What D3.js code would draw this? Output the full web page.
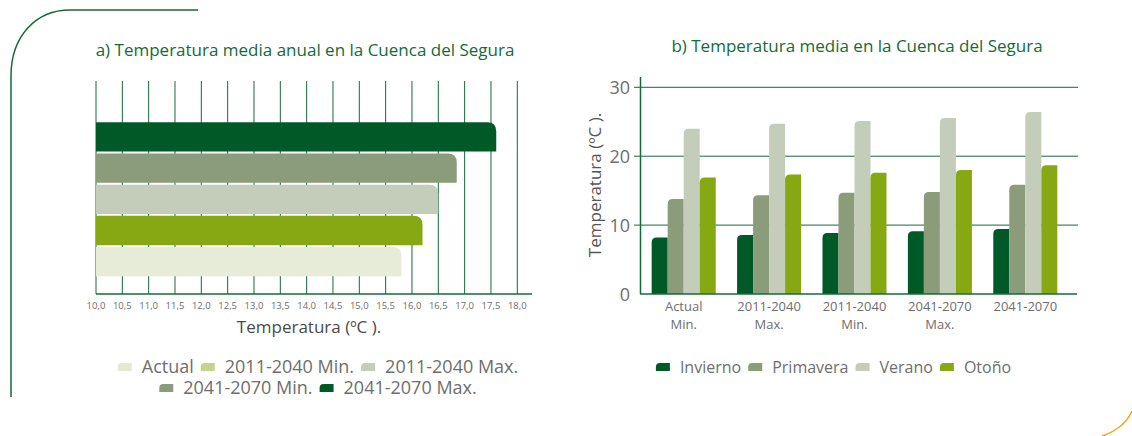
<!DOCTYPE html>
<html lang="es">
<head>
<meta charset="UTF-8">
<title>Temperatura en la Cuenca del Segura</title>
<script src="https://d3js.org/d3.v7.min.js"></script>
<style>
    * { margin: 0; padding: 0; }
    body { background: #fff; font-family: "Open Sans", "Noto Sans", sans-serif; }
    svg { display: block; }
</style>
</head>
<body>
<div id="chart"></div>
<script>
// a) temperatura media anual
const escenarios = ["Actual", "2011-2040 Min.", "2011-2040 Max.", "2041-2070 Min.", "2041-2070 Max."];
const tempAnual = [15.8, 16.2, 16.5, 16.85, 17.6];
const ticksAnual = d3.range(10, 18.01, 0.5);

// b) temperatura media por estacion
const periodos = [["Actual", "Min."], ["2011-2040", "Max."], ["2011-2040", "Min."], ["2041-2070", "Max."], ["2041-2070"]];
const estaciones = ["Invierno", "Primavera", "Verano", "Otoño"];
const invierno = [8.2, 8.55, 8.85, 9.1, 9.45];
const primavera = [13.8, 14.35, 14.7, 14.8, 15.85];
const verano = [24.0, 24.7, 25.1, 25.55, 26.4];
const otono = [16.9, 17.35, 17.6, 18.0, 18.7];
const ticksEstacion = [0, 10, 20, 30];

const barColorsA = ["#e6ecd7", "#86a913", "#c4cdb9", "#8a9c7a", "#005a27"];
const legendColorsA = ["#e3ead1", "#c5d38d", "#c4cdb9", "#8a9c7a", "#005a27"];
const colorsB = ["#005a27", "#8a9c7a", "#c4cdb9", "#86a913"];

const green = "#136b38";
const grey = "#6e6e6e";

const svg = d3.select("#chart").append("svg")
    .attr("width", 1132)
    .attr("height", 436);

// decorative frame
svg.append("path")
    .attr("d", "M11,397 V76 C11,36 36,10 70,10 H198")
    .attr("fill", "none")
    .attr("stroke", green)
    .attr("stroke-width", 1.5);
svg.append("path")
    .attr("d", "M1102,436 C1115,432 1127,423 1132,411")
    .attr("fill", "none")
    .attr("stroke", "#f5a21b")
    .attr("stroke-width", 1.5);

// bar with one rounded corner
function barTopRight(x0, y0, w, h, r) {
    r = Math.min(r, w, h);
    return `M${x0},${y0} H${x0 + w - r} Q${x0 + w},${y0} ${x0 + w},${y0 + r} V${y0 + h} H${x0} Z`;
}
function barTopLeft(x0, y0, w, h, r) {
    r = Math.min(r, w, h);
    return `M${x0},${y0 + h} V${y0 + r} Q${x0},${y0} ${x0 + r},${y0} H${x0 + w} V${y0 + h} Z`;
}

// ---------- chart a ----------
const ga = svg.append("g");
const xA = d3.scaleLinear().domain([10, 18]).range([96, 517.3]);
const yA = d3.scaleBand().domain(escenarios.slice().reverse()).range([122.3, 276.3]).paddingInner(0.06);

ga.append("text")
    .attr("x", 305).attr("y", 56)
    .attr("text-anchor", "middle")
    .attr("font-size", 17)
    .attr("fill", green)
    .text("a) Temperatura media anual en la Cuenca del Segura");

ga.selectAll("line.grid")
    .data(ticksAnual)
    .enter().append("line")
    .attr("class", "grid")
    .attr("x1", d => xA(d)).attr("x2", d => xA(d))
    .attr("y1", 81).attr("y2", 294)
    .attr("stroke", green)
    .attr("stroke-width", 1);

ga.append("line")
    .attr("x1", xA(10)).attr("x2", 532)
    .attr("y1", 294).attr("y2", 294)
    .attr("stroke", green)
    .attr("stroke-width", 1.5);

ga.selectAll("path.bar")
    .data(escenarios)
    .enter().append("path")
    .attr("class", "bar")
    .attr("d", (d, i) => barTopRight(xA(10), yA(d), xA(tempAnual[i]) - xA(10), yA.bandwidth(), 9))
    .attr("fill", (d, i) => barColorsA[i]);

ga.selectAll("text.tick")
    .data(ticksAnual)
    .enter().append("text")
    .attr("class", "tick")
    .attr("x", d => xA(d))
    .attr("y", 308.5)
    .attr("text-anchor", "middle")
    .attr("font-size", 9.5)
    .attr("fill", grey)
    .text(d => d3.format(".1f")(d).replace(".", ","));

ga.append("text")
    .attr("x", 309).attr("y", 333)
    .attr("text-anchor", "middle")
    .attr("font-size", 17)
    .attr("fill", "#4a4a4a")
    .text("Temperatura (ºC ).");

// ---------- chart b ----------
const gb = svg.append("g");
const yB = d3.scaleLinear().domain([0, 30]).range([294, 87.3]);
const xB = d3.scaleBand().domain(d3.range(periodos.length)).range([641, 1068]).paddingInner(0.25).paddingOuter(0.125);
const xSub = d3.scaleBand().domain(estaciones).range([0, xB.bandwidth()]);
const series = [invierno, primavera, verano, otono];

gb.append("text")
    .attr("x", 857).attr("y", 52)
    .attr("text-anchor", "middle")
    .attr("font-size", 17)
    .attr("fill", green)
    .text("b) Temperatura media en la Cuenca del Segura");

gb.selectAll("line.grid")
    .data(ticksEstacion.slice(1))
    .enter().append("line")
    .attr("class", "grid")
    .attr("x1", 634).attr("x2", 1078)
    .attr("y1", d => yB(d)).attr("y2", d => yB(d))
    .attr("stroke", green)
    .attr("stroke-width", 1);

gb.append("line")
    .attr("x1", 640.5).attr("x2", 640.5)
    .attr("y1", 77).attr("y2", 294)
    .attr("stroke", green)
    .attr("stroke-width", 1.5);

gb.selectAll("text.ytick")
    .data(ticksEstacion)
    .enter().append("text")
    .attr("class", "ytick")
    .attr("x", 630)
    .attr("y", d => yB(d) + 6.5)
    .attr("text-anchor", "end")
    .attr("font-size", 18)
    .attr("fill", grey)
    .text(d => d);

const groups = gb.selectAll("g.grupo")
    .data(periodos)
    .enter().append("g")
    .attr("class", "grupo")
    .attr("transform", (d, i) => `translate(${xB(i)},0)`);

groups.selectAll("path")
    .data((d, i) => estaciones.map((e, k) => ({ e, v: series[k][i], k })))
    .enter().append("path")
    .attr("d", d => barTopLeft(xSub(d.e), yB(d.v), xSub.bandwidth(), yB(0) - yB(d.v), 5))
    .attr("fill", d => colorsB[d.k]);

gb.append("line")
    .attr("x1", 640).attr("x2", 1077)
    .attr("y1", 294).attr("y2", 294)
    .attr("stroke", green)
    .attr("stroke-width", 1.5);

groups.each(function (d) {
    d.forEach((line, j) => {
        d3.select(this).append("text")
            .attr("text-anchor", "middle")
            .attr("font-size", 13)
            .attr("fill", grey)
            .attr("x", xB.bandwidth() / 2)
            .attr("y", 310.5 + j * 18)
            .text(line);
    });
});

gb.append("text")
    .attr("transform", "translate(601,185) rotate(-90)")
    .attr("text-anchor", "middle")
    .attr("font-size", 17)
    .attr("fill", "#555")
    .text("Temperatura (ºC ).");

// ---------- legends ----------
function legendRow(parent, items, colors, cx, cy, size) {
    const g = parent.append("g");
    let x = 0;
    items.forEach((label, i) => {
        g.append("path")
            .attr("d", barTopLeft(x, cy - 4, 14, 8, 4))
            .attr("fill", colors[i]);
        const t = g.append("text")
            .attr("x", x + 24)
            .attr("y", cy + size * 0.35)
            .attr("font-size", size)
            .attr("fill", grey)
            .text(label);
        x += 24 + t.node().getComputedTextLength() + 7;
    });
    const w = x - 7;
    g.attr("transform", `translate(${cx - w / 2},0)`);
}

legendRow(ga, escenarios.slice(0, 3), legendColorsA.slice(0, 3), 318, 367, 18);
legendRow(ga, escenarios.slice(3), legendColorsA.slice(3), 318, 388, 18);
legendRow(gb, estaciones, colorsB, 833.5, 367, 16);
</script>
</body>
</html>
